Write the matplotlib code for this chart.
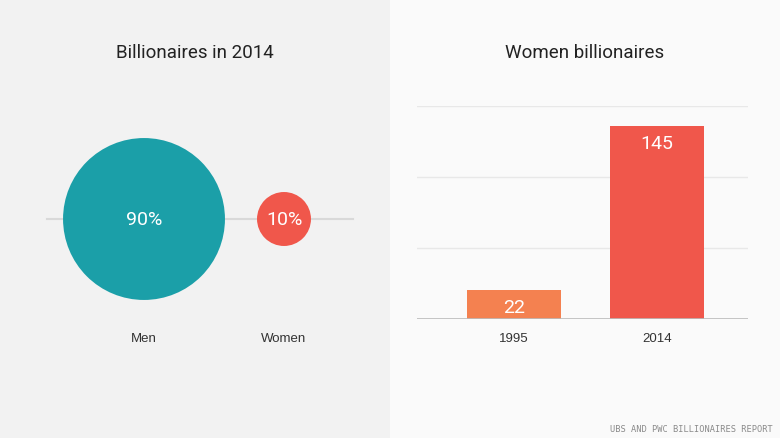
import matplotlib
matplotlib.use("Agg")
import matplotlib.pyplot as plt
import numpy as np

# Billionaires in 2014, share by gender (%)
genders = ["Men", "Women"]
shares = [90, 10]

# Women billionaires count
years = ["1995", "2014"]
women_counts = [22, 145]

TEAL = "#1b9fa8"
RED = "#f0574b"
ORANGE = "#f48150"
DARK = "#333333"
NUMFONT = ["Roboto", "DejaVu Sans"]

plt.rcParams["font.family"] = ["Liberation Sans", "DejaVu Sans"]

fig = plt.figure(figsize=(7.8, 4.39), dpi=100)
fig.patch.set_facecolor("#fafafa")

# ---- left: bubbles, area proportional to share (1 unit = 140 px)
ax1 = fig.add_axes([0, 0, 0.5, 1])
ax1.set_facecolor("#f2f2f2")
ax1.set_xlim(-144 / 140, 246 / 140)
ax1.set_ylim(-219 / 140, 220 / 140)
ax1.set_xticks([])
ax1.set_yticks([])
for s in ax1.spines.values():
    s.set_visible(False)
xpos = np.arange(len(genders))
ax1.plot([-0.693, 1.493], [0, 0], color="#d9d9d9", lw=1.5, zorder=1)
ax1.scatter(xpos, np.zeros(len(xpos)), s=np.array(shares) * 151,
            c=[TEAL, RED], edgecolors="none", zorder=2)
for x, v, g in zip(xpos, shares, genders):
    ax1.text(x, 0, f"{v}%", color="white", ha="center", va="center",
             fontsize=14, family=NUMFONT, zorder=3)
    ax1.text(x, -0.85, g, color=DARK, ha="center", va="center", fontsize=9.5)
fig.text(0.25, 1 - 53 / 439, "Billionaires in 2014", ha="center", va="center",
         fontsize=13.5, color="#222222", family=NUMFONT)

# ---- right: bar chart
ax2 = fig.add_axes([417 / 780, 119 / 439, 331 / 780, 213 / 439])
ax2.set_facecolor("none")
bx = np.arange(len(years))
bars = ax2.bar(bx, women_counts, width=0.657, color=[ORANGE, RED], zorder=2)
ax2.set_xlim(-0.678, 1.636)
ax2.set_ylim(0, 160)
ax2.set_yticks(np.linspace(0, 160, 4)[1:])
ax2.yaxis.grid(True, color="#e8e8e8", lw=1)
ax2.set_axisbelow(True)
ax2.tick_params(axis="y", left=False, labelleft=False)
ax2.tick_params(axis="x", bottom=False, pad=6, labelsize=9.5, labelcolor=DARK)
ax2.set_xticks(bx)
ax2.set_xticklabels(years)
for s in ax2.spines.values():
    s.set_visible(False)
ax2.axhline(0, color="#bbbbbb", lw=1.2, zorder=3)
for x, v in zip(bx, women_counts):
    ax2.annotate(str(v), (x, v), xytext=(0, -8), textcoords="offset pixels",
                 ha="center", va="top", color="white", fontsize=14,
                 family=NUMFONT, zorder=4)
fig.text(0.75, 1 - 53 / 439, "Women billionaires", ha="center", va="center",
         fontsize=13.5, color="#222222", family=NUMFONT)

fig.text(773 / 780, 1 - 430 / 439, "UBS AND PWC BILLIONAIRES REPORT", ha="right", va="center",
         fontsize=6.2, color="#8a8a8a", family="DejaVu Sans Mono")

fig.savefig("out.png", dpi=100, facecolor=fig.get_facecolor())
